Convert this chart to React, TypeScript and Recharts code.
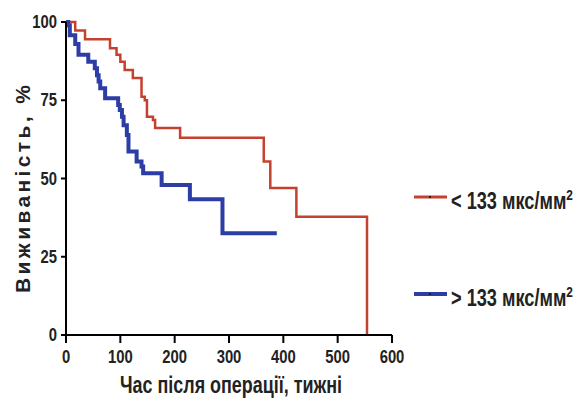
import React from "react";
import { LineChart, Line, XAxis, YAxis, Legend, Label } from "recharts";

// Kaplan-Meier steps (time in weeks, survival %)
const lowTimes = [0, 17, 35, 81, 93, 100, 108, 123, 139, 145, 149, 160, 164, 210, 364, 376, 424, 554];
const lowSurvival = [100, 97.3, 94.5, 91.6, 89.5, 87.3, 84.7, 82.1, 76.1, 75, 69.7, 68.7, 66.1, 63, 55.4, 47, 37.8, 0];

const highTimes = [0, 4, 7, 17, 23, 41, 53, 57, 60, 63, 72, 96, 99, 103, 106, 112, 115, 130, 139, 142, 176, 228, 288, 388];
const highSurvival = [100, 99, 95.8, 93, 89.5, 87.3, 85.2, 83, 81, 78.8, 75.6, 73.5, 71.9, 69.7, 67, 63.9, 58.6, 55.4, 53.8, 51.7, 47.9, 43.4, 32.5, 32.5];

const xTicks = [0, 100, 200, 300, 400, 500, 600];
const yTicks = [0, 25, 50, 75, 100];

const seriesNames = ["< 133 мкс/мм", "> 133 мкс/мм"];
const seriesColors = ["#c5412f", "#2c3da6"];

const toPoints = (times: number[], vals: number[]) =>
  times.map((t, i) => ({ t, v: vals[i] }));

const lowData = toPoints(lowTimes, lowSurvival);
const highData = toPoints(highTimes, highSurvival);

const FONT = "'Liberation Sans', Arial, sans-serif";
const SQUEEZE = 0.78;

// narrow bold tick label (the original uses a condensed face)
function NarrowTick(props: any) {
  const { x, y, payload, textAnchor, verticalAnchor } = props;
  const dy = verticalAnchor === "start" ? 14 : 6;
  return (
    <text
      transform={`translate(${x} ${y + dy}) scale(${SQUEEZE} 1)`}
      textAnchor={textAnchor}
      style={{ fontFamily: FONT, fontWeight: "bold", fontSize: 19, fill: "#222" }}
    >
      {payload.value}
    </text>
  );
}

function LegendBox() {
  return (
    <div style={{ fontFamily: FONT, fontWeight: "bold", fontSize: 23, color: "#222" }}>
      {seriesNames.map((name, i) => (
        <div
          key={name}
          style={{ display: "flex", alignItems: "center", height: 30, marginBottom: i === 0 ? 67 : 0 }}
        >
          <svg width={36} height={10} style={{ marginRight: 2, flex: "none" }}>
            <line x1={1} y1={5} x2={34} y2={5} stroke={seriesColors[i]} strokeWidth={i === 0 ? 3 : 4} />
            <line x1={17} y1={4} x2={17} y2={6} stroke="#222" strokeWidth={2} />
          </svg>
          <span
            style={{
              marginTop: 6,
              whiteSpace: "nowrap",
              display: "inline-block",
              transform: "scaleX(0.79)",
              transformOrigin: "left center",
            }}
          >
            {name}
            <sup style={{ fontSize: 15 }}>2</sup>
          </span>
        </div>
      ))}
    </div>
  );
}

export default function App() {
  return (
    <div style={{ position: "absolute", left: 0, top: 0, background: "#fff" }}>
      <LineChart width={579} height={410} margin={{ top: 22, right: 187, bottom: 0, left: 26 }}>
        <XAxis
          dataKey="t"
          type="number"
          domain={[0, 600]}
          ticks={xTicks}
          allowDataOverflow
          height={75}
          tickSize={8}
          tickMargin={6}
          stroke="#000"
          strokeWidth={2}
          tick={<NarrowTick />}
        >
          <Label
            content={() => (
              <text
                x={231}
                y={393}
                textAnchor="middle"
                textLength={222}
                lengthAdjust="spacingAndGlyphs"
                style={{ fontFamily: FONT, fontWeight: "bold", fontSize: 23, fill: "#222" }}
              >
                Час після операції, тижні
              </text>
            )}
          />
        </XAxis>
        <YAxis
          dataKey="v"
          type="number"
          domain={[0, 100]}
          ticks={yTicks}
          width={40}
          tickSize={5}
          tickMargin={4}
          stroke="#000"
          strokeWidth={2}
          tick={<NarrowTick />}
        >
          <Label
            content={() => (
              <text
                x={0}
                y={0}
                transform="translate(22 189) rotate(-90)"
                textAnchor="middle"
                dominantBaseline="central"
                textLength={208}
                lengthAdjust="spacing"
                style={{ fontFamily: FONT, fontWeight: "bold", fontSize: 21, fill: "#222" }}
              >
                Виживаність, %
              </text>
            )}
          />
        </YAxis>
        <Legend
          layout="horizontal"
          verticalAlign="middle"
          align="center"
          content={() => <LegendBox />}
          wrapperStyle={{ left: 413, top: 182, width: 170 }}
        />
        <Line
          data={lowData}
          dataKey="v"
          name={seriesNames[0]}
          type="stepAfter"
          stroke={seriesColors[0]}
          strokeWidth={2.5}
          dot={false}
          isAnimationActive={false}
        />
        <Line
          data={highData}
          dataKey="v"
          name={seriesNames[1]}
          type="stepAfter"
          stroke={seriesColors[1]}
          strokeWidth={4}
          dot={false}
          isAnimationActive={false}
        />
      </LineChart>
    </div>
  );
}
